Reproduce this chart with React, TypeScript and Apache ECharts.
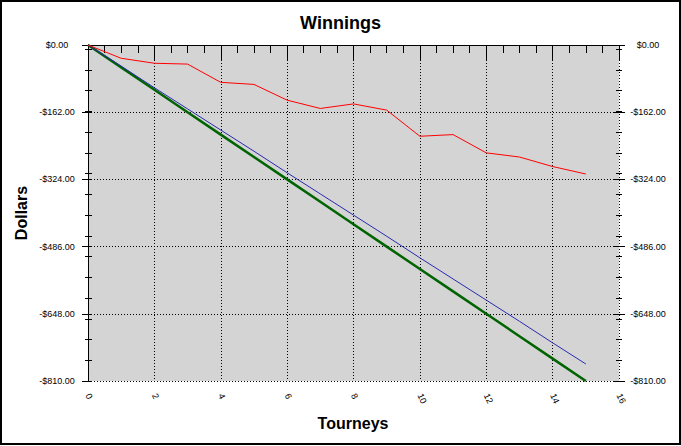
import React, { useEffect, useRef } from "react";
import * as echarts from "echarts";

const tourneys = [0, 1, 2, 3, 4, 5, 6, 7, 8, 9, 10, 11, 12, 13, 14, 15];
const actualWinnings = [0, -32, -44, -46, -90, -95, -133, -153, -142, -157, -220, -216, -260, -270, -293, -311];
const expectedWinnings = [0, -51, -103, -154, -205, -256, -308, -359, -410, -461, -513, -564, -615, -666, -718, -769];
const buyIns = [0, -54, -108, -162, -216, -270, -324, -378, -432, -486, -540, -594, -648, -702, -756, -810];

const titleText = "Winnings";
const xName = "Tourneys";
const yName = "Dollars";

export default function App() {
  const ref = useRef<HTMLDivElement>(null);
  useEffect(() => {
    const chart = echarts.init(ref.current!, null, { renderer: "svg" });
    const font = "'Liberation Sans', Arial, sans-serif";
    const money = (v: number) => (v < 0 ? "-" : "") + "$" + Math.abs(v).toFixed(2);
    const pairs = (ys: number[]) => tourneys.map((x, i) => [x, ys[i]]);
    const hidden = { axisLine: { show: false }, axisLabel: { show: false }, splitLine: { show: false } };
    const tickStyle = { color: "#000", width: 1 };

    chart.setOption({
      animation: false,
      backgroundColor: "#ffffff",
      title: {
        text: titleText,
        left: "center",
        top: 9,
        textStyle: { fontSize: 18, fontWeight: "bold", fontFamily: font, color: "#000" },
      },
      grid: {
        left: 88,
        right: 62,
        top: 45,
        bottom: 65,
        show: true,
        backgroundColor: "#d4d4d4",
        borderWidth: 0,
        outerBoundsMode: "none",
      },
      xAxis: [
        {
          type: "value", position: "bottom", min: 0, max: 16, interval: 2,
          axisLine: { show: true, lineStyle: { color: "#000", width: 1 } },
          axisTick: { show: false },
          axisLabel: { rotate: -65, fontSize: 9, fontFamily: font, color: "#000", margin: 13 },
          splitLine: { show: true, lineStyle: { color: "#000", type: [1, 2], width: 1 } },
        },
        {
          type: "value", position: "bottom", min: 0, max: 16, interval: 2, offset: -4,
          ...hidden,
          axisTick: { show: true, inside: false, length: 12, lineStyle: tickStyle },
        },
        {
          type: "value", position: "bottom", min: 0, max: 16, interval: 0.5, offset: -2,
          ...hidden,
          axisTick: { show: true, inside: false, length: 6, lineStyle: tickStyle },
        },
        {
          type: "value", position: "top", min: 0, max: 16, interval: 0.5,
          axisLine: { show: true, lineStyle: { color: "#000", width: 1 } },
          axisLabel: { show: false },
          splitLine: { show: false },
          axisTick: { show: true, inside: true, length: 5, lineStyle: tickStyle },
        },
      ],
      yAxis: [
        {
          type: "value", position: "left", min: -810, max: 0, interval: 162,
          axisLine: { show: true, lineStyle: { color: "#000", width: 1 } },
          axisTick: { show: false },
          axisLabel: { formatter: money, fontSize: 9, fontFamily: font, color: "#000", margin: 31, align: "center" },
          splitLine: { show: true, lineStyle: { color: "#000", type: [1, 2], width: 1 } },
        },
        {
          type: "value", position: "right", min: -810, max: 0, interval: 162,
          axisLine: { show: true, lineStyle: { color: "#000", width: 1 } },
          axisTick: { show: false },
          axisLabel: { formatter: money, fontSize: 9, fontFamily: font, color: "#000", margin: 29, align: "center" },
          splitLine: { show: false },
        },
        {
          type: "value", position: "left", min: -810, max: 0, interval: 162, offset: -3,
          ...hidden,
          axisTick: { show: true, inside: false, length: 9, lineStyle: tickStyle },
        },
        {
          type: "value", position: "left", min: -810, max: 0, interval: 50, offset: -4,
          ...hidden,
          axisTick: { show: true, inside: false, length: 7, lineStyle: tickStyle },
        },
        {
          type: "value", position: "right", min: -810, max: 0, interval: 162, offset: -5,
          ...hidden,
          axisTick: { show: true, inside: false, length: 11, lineStyle: tickStyle },
        },
        {
          type: "value", position: "right", min: -810, max: 0, interval: 50, offset: -3,
          ...hidden,
          axisTick: { show: true, inside: false, length: 6, lineStyle: tickStyle },
        },
      ],
      series: [
        {
          name: "Buy-ins", type: "line", xAxisIndex: 0, yAxisIndex: 0,
          data: pairs(buyIns), showSymbol: false, symbol: "none",
          lineStyle: { color: "#006400", width: 2.5 }, z: 3,
        },
        {
          name: "Expected", type: "line", xAxisIndex: 0, yAxisIndex: 0,
          data: pairs(expectedWinnings), showSymbol: false, symbol: "none",
          lineStyle: { color: "#2a2ab0", width: 1 }, z: 4,
        },
        {
          name: "Winnings", type: "line", xAxisIndex: 0, yAxisIndex: 0,
          data: pairs(actualWinnings), showSymbol: false, symbol: "none",
          lineStyle: { color: "#ff0000", width: 1 }, z: 5,
        },
      ],
      graphic: [
        {
          type: "text", x: 21, y: 213, rotation: Math.PI / 2,
          style: { text: yName, fontSize: 16, fontWeight: "bold", fontFamily: font, fill: "#000", align: "center", verticalAlign: "middle" },
        },
        {
          type: "text", x: 353, y: 423,
          style: { text: xName, fontSize: 16, fontWeight: "bold", fontFamily: font, fill: "#000", align: "center", verticalAlign: "middle" },
        },
        {
          type: "rect", silent: true, z: 100,
          shape: { x: 1, y: 1, width: 679, height: 443 },
          style: { fill: "none", stroke: "#000", lineWidth: 2 },
        },
      ],
    });
    return () => chart.dispose();
  }, []);
  return <div ref={ref} style={{ position: "fixed", left: 0, top: 0, width: 681, height: 446 }} />;
}
